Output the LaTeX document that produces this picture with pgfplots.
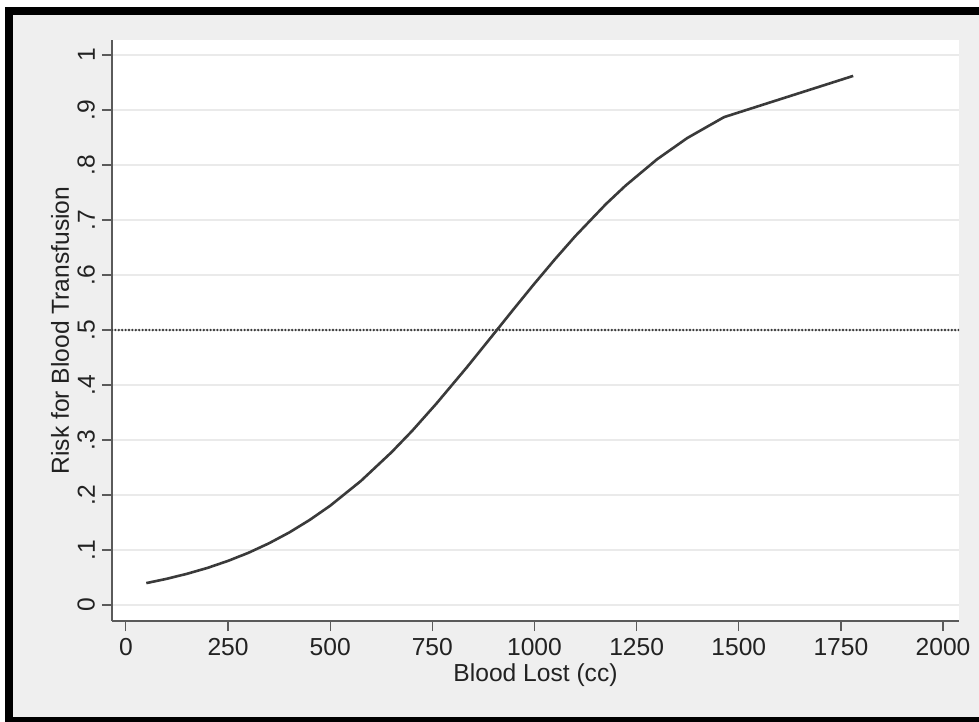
\documentclass[border=0pt]{standalone}
\usepackage{fontspec}
\setmainfont{Liberation Sans}
\usepackage{pgfplots}
\pgfplotsset{compat=1.18}

\definecolor{framegray}{HTML}{EFEFEF}
\definecolor{gridgray}{HTML}{EAEAEA}
\definecolor{axisgray}{HTML}{5A5A5A}
\definecolor{curvegray}{HTML}{3A3A3A}
\definecolor{textgray}{HTML}{222222}

\begin{document}
\begin{tikzpicture}[font=\fontsize{12.3}{14.5}\selectfont]
% page = 979x722 px, 1 px = 0.5pt, origin at the lower left corner of the plot region
\useasboundingbox (-56pt,-50.5pt) rectangle (433.5pt,310.5pt);
\fill[white] (-56pt,-50.5pt) rectangle (433.5pt,310.5pt);
\fill[black] (-53.5pt,-50.5pt) rectangle (433.5pt,307pt);
\fill[framegray] (-49.5pt,-48pt) rectangle (433.5pt,303pt);
\begin{axis}[
  at={(0,0)}, anchor=south west,
  scale only axis, width=423.5pt, height=290.5pt,
  xmin=-34, xmax=2039,
  ymin=-0.029, ymax=1.0273,
  axis x line*=bottom, axis y line*=left,
  axis line style={axisgray,line width=0.6pt},
  axis background/.style={fill=white},
  xtick={0,250,500,750,1000,1250,1500,1750,2000},
  xticklabels={0,250,500,750,1000,1250,1500,1750,2000},
  ytick={0,0.1,0.2,0.3,0.4,0.5,0.6,0.7,0.8,0.9,1},
  yticklabels={0,.1,.2,.3,.4,.5,.6,.7,.8,.9,1},
  /pgf/number format/assume math mode=true,
  tick align=outside, major tick length=5pt,
  tick style={axisgray,line width=0.6pt},
  minor tick num=0,
  ymajorgrids=true, grid style={gridgray,line width=0.6pt},
  tick label style={font=\fontsize{12.3}{14.5}\selectfont,text=textgray},
  yticklabel style={rotate=90,anchor=south},
  label style={font=\fontsize{12.3}{14.5}\selectfont,text=textgray},
  xlabel={Blood Lost (cc)},
  ylabel={Risk for Blood Transfusion},
  xlabel style={at={(axis description cs:0.5,-0.0929)},anchor=center},
  ylabel style={at={(axis description cs:-0.0614,0.5)},anchor=center},
]
\addplot[color=curvegray,dash pattern=on 0pt off 1.7pt,line cap=round,line width=1.3pt] coordinates {(-34,0.5) (2039,0.5)};
\addplot[color=curvegray,line width=1.3pt,line join=round] coordinates {
(50,0.0399) (100,0.0477) (150,0.0569) (200,0.0676) (250,0.0803)
(300,0.0950) (350,0.1122) (400,0.1320) (450,0.1548) (500,0.1806)
(575,0.2255) (650,0.2777) (700,0.3162) (760,0.3663) (835,0.4327)
(900,0.4926) (950,0.5389) (998,0.5827) (1050,0.6286) (1100,0.6708)
(1175,0.7291) (1223,0.7626) (1300,0.8104) (1374,0.8491) (1464,0.8871)
(1780,0.9620)};
\end{axis}
\end{tikzpicture}
\end{document}
